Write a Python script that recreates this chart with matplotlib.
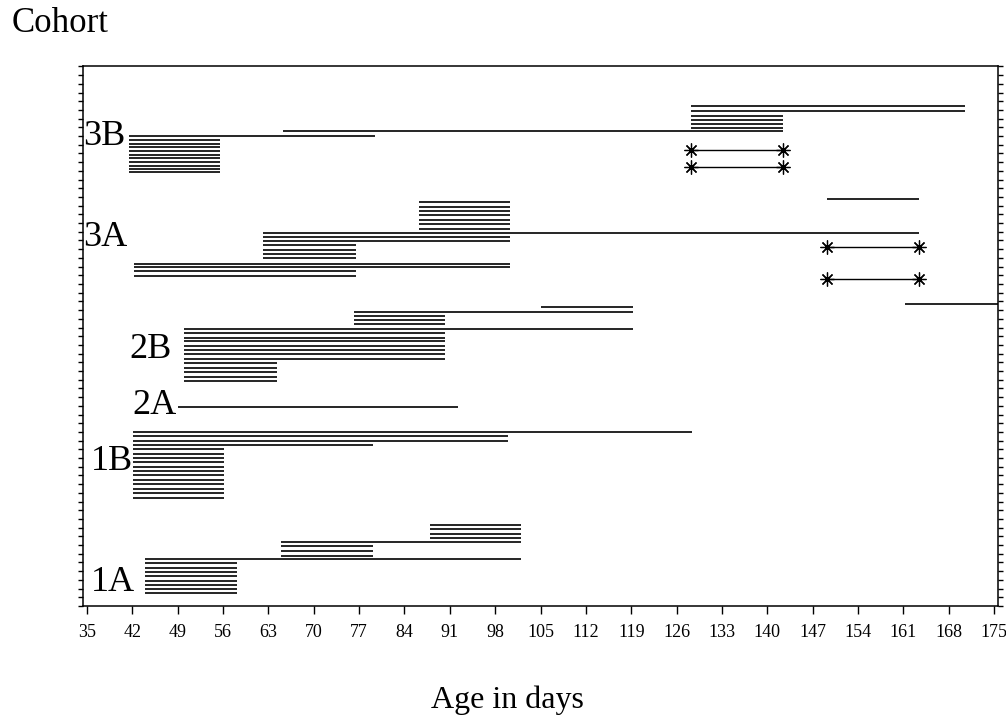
import numpy as np
import matplotlib.pyplot as plt

plt.rcParams['font.family'] = ['Liberation Serif', 'DejaVu Serif']

# follow-up segments, one entry per line: row on the y axis, first day, last day
# cohort 3B
rows_3b = [114.8, 113.7, 112.6, 111.7, 110.7, 109.8, 109.1, 108.0,
           107.1, 106.2, 105.4, 104.6, 103.7, 102.9, 102.1, 101.2, 100.5, 99.8]
start_3b = [128.2, 128.2, 128.2, 128.2, 128.2, 128.2, 65.2, 41.5,
            41.5, 41.5, 41.5, 41.5, 41.5, 41.5, 41.5, 41.5, 41.5, 41.5]
end_3b = [170.5, 170.5, 142.4, 142.4, 142.4, 142.4, 142.4, 79.5,
          55.5, 55.5, 55.5, 55.5, 55.5, 55.5, 55.5, 55.5, 55.5, 55.5]

# cohort 3A
rows_3a = [93.5, 92.9, 91.8, 90.8, 89.9, 88.7, 87.7, 86.7,
           85.7, 84.8, 83.8, 82.9, 81.8, 80.9, 79.9,
           78.7, 77.8, 76.9, 75.9, 69.4]
start_3a = [149.2, 86.2, 86.2, 86.2, 86.2, 86.2, 86.2, 86.2,
            62.2, 62.2, 62.2, 62.2, 62.2, 62.2, 62.2,
            42.3, 42.3, 42.3, 42.3, 161.2]
end_3a = [163.4, 100.3, 100.3, 100.3, 100.3, 100.3, 100.3, 100.3,
          163.4, 100.3, 100.3, 76.5, 76.5, 76.5, 76.5,
          100.3, 100.3, 76.5, 76.5, 175.6]

# cohort 2B
rows_2b = [68.8, 67.6, 66.7, 65.7, 64.7, 63.7, 62.7, 61.7, 60.8, 59.8,
           58.9, 57.8, 56.7, 55.8, 54.7, 53.8, 52.7, 51.8]
start_2b = [105.0, 76.2, 76.2, 76.2, 76.2, 50.0, 50.0, 50.0, 50.0, 50.0,
            50.0, 50.0, 50.0, 50.0, 50.0, 50.0, 50.0, 50.0]
end_2b = [119.3, 119.3, 90.3, 90.3, 90.3, 119.3, 90.3, 90.3, 90.3, 90.3,
          90.3, 90.3, 90.3, 64.3, 64.3, 64.3, 64.3, 64.3]

# cohort 2A
rows_2a = [45.8]
start_2a = [49.0]
end_2a = [92.2]

# cohort 1B
rows_1b = [39.9, 39.0, 37.9, 36.9, 36.0, 35.0, 34.0, 33.0, 32.0, 31.0,
           30.0, 29.0, 28.0, 27.0, 26.0, 24.9]
start_1b = [42.1, 42.1, 42.1, 42.1, 42.1, 42.1, 42.1, 42.1, 42.1, 42.1,
            42.1, 42.1, 42.1, 42.1, 42.1, 42.1]
end_1b = [128.4, 100.0, 100.0, 79.1, 56.1, 56.1, 56.1, 56.1, 56.1, 56.1,
          56.1, 56.1, 56.1, 56.1, 56.1, 56.1]

# cohort 1A
rows_1a = [18.6, 17.7, 16.6, 15.7, 14.8, 13.8, 12.7, 11.6, 10.7,
           9.8, 8.8, 7.9, 6.9, 5.8, 4.8, 3.8, 2.9]
start_1a = [88.0, 88.0, 88.0, 88.0, 65.0, 65.0, 65.0, 65.0, 44.0,
            44.0, 44.0, 44.0, 44.0, 44.0, 44.0, 44.0, 44.0]
end_1a = [102.0, 102.0, 102.0, 102.0, 102.0, 79.1, 79.1, 79.1, 102.0,
          58.2, 58.2, 58.2, 58.2, 58.2, 58.2, 58.2, 58.2]

# segments drawn with star end points
star_rows = [104.8, 100.9, 82.4, 75.2]
star_start = [128.2, 128.2, 149.2, 149.2]
star_end = [142.4, 142.4, 163.4, 163.4]

cohorts = ['1A', '1B', '2A', '2B', '3A', '3B']
label_day = [42.4, 42.1, 48.9, 48.1, 41.3, 40.9]
label_row = [5.3, 33.3, 46.0, 58.9, 84.7, 108.0]

xticks = np.arange(35, 176, 7)

fig = plt.figure(figsize=(10.06, 7.22), dpi=100)
ax = fig.add_axes([83/1006, 116/722, 915/1006, 540/722])

rows = rows_3b + rows_3a + rows_2b + rows_2a + rows_1b + rows_1a
starts = start_3b + start_3a + start_2b + start_2a + start_1b + start_1a
ends = end_3b + end_3a + end_2b + end_2a + end_1b + end_1a
ax.hlines(rows, starts, ends, color='black', lw=1.2)

for r, s, e in zip(star_rows, star_start, star_end):
    ax.plot([s, e], [r, r], color='black', lw=1.0,
            marker=(8, 2, 0), markersize=10, markeredgewidth=0.9)

for name, d, r in zip(cohorts, label_day, label_row):
    ax.text(d, r, name, ha='right', va='center', fontsize=26)

ax.set_xlim(34.4, 175.6)
ax.set_ylim(0, 124.1)
ax.set_xticks(xticks)
ax.set_xticklabels([str(t) for t in xticks], fontsize=13)
ax.set_yticks(np.arange(0, 124.1, 2))
ax.set_yticklabels([])
ax.tick_params(axis='x', direction='out', length=6, width=1, pad=7)
ax.tick_params(axis='y', direction='out', length=3.5, width=1,
               left=True, right=True)
for sp in ax.spines.values():
    sp.set_linewidth(1.1)

fig.text(12/1006, 1 - 24/722, 'Cohort', fontsize=25, ha='left', va='center')
fig.text(507/1006, 1 - 700/722, 'Age in days', fontsize=23, ha='center', va='center')

fig.savefig('out.png', dpi=100)
